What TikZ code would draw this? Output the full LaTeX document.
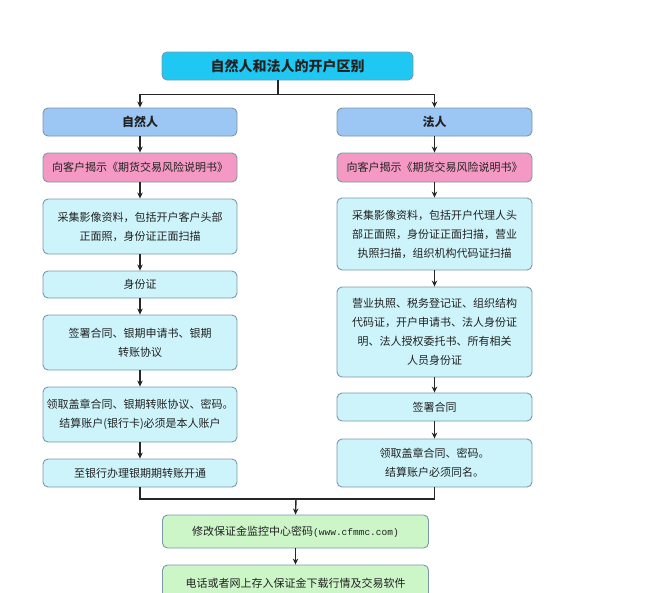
\documentclass[tikz,border=0pt]{standalone}
\usepackage{fontspec}
\newfontfamily\cjk{Noto Sans CJK SC}
\newfontfamily\monofont{Liberation Mono}
\usetikzlibrary{arrows.meta,calc}
\definecolor{titlec}{HTML}{1EC8F2}
\definecolor{bluec}{HTML}{9CC6F3}
\definecolor{pinkc}{HTML}{F498C4}
\definecolor{cyanc}{HTML}{CDF4FA}
\definecolor{greenc}{HTML}{CCF5C8}
\definecolor{edgec}{HTML}{7A98AC}
\definecolor{txtc}{HTML}{222222}
\tikzset{
  box/.style={draw=edgec, line width=0.9pt, rounded corners=5pt, inner sep=0pt,
    align=center, text=txtc, font=\cjk\fontsize{11}{19}\selectfont},
  colL/.style={box, minimum width=194pt},
  colR/.style={box, minimum width=195pt},
  titlebox/.style={box, fill=titlec, minimum width=251pt, minimum height=28pt,
    font=\cjk\bfseries\fontsize{14}{16}\selectfont},
  headbox/.style={fill=bluec, minimum height=28pt, font=\cjk\bfseries\fontsize{12}{14}\selectfont},
  pinkbox/.style={fill=pinkc, minimum height=29pt},
  cyanbox/.style={fill=cyanc},
  greenbox/.style={box, fill=greenc, minimum width=266pt},
  conn/.style={line width=1.4pt, draw=black!85},
  arr/.style={conn, -{Stealth[length=6pt,width=5.5pt]}},
}
\begin{document}
\begin{tikzpicture}[x=1pt,y=-1pt]
\useasboundingbox[fill=white] (0,0) rectangle (650,592);
% title
\node[titlebox] (title) at (287.5,66) {自然人和法人的开户区别};
% left column
\node[colL,headbox] (L1) at (140,122) {自然人};
\node[colL,pinkbox] (L2) at (140,167.5) {向客户揭示《期货交易风险说明书》};
\node[colL,cyanbox,minimum height=55pt] (L3) at (140,226.5) {采集影像资料，包括开户客户头部\\正面照，身份证正面扫描};
\node[colL,cyanbox,minimum height=27pt] (L4) at (140,284.5) {身份证};
\node[colL,cyanbox,minimum height=55pt] (L5) at (140,342.5) {签署合同、银期申请书、银期\\转账协议};
\node[colL,cyanbox,minimum height=55pt] (L6) at (140,414.5) {领取盖章合同、银期转账协议、密码。\\结算账户(银行卡)必须是本人账户};
\node[colL,cyanbox,minimum height=28pt] (L7) at (140,473) {至银行办理银期期转账开通};
% right column
\node[colR,headbox] (R1) at (434.5,122) {法人};
\node[colR,pinkbox] (R2) at (434.5,167.5) {向客户揭示《期货交易风险说明书》};
\node[colR,cyanbox,minimum height=72pt] (R3) at (434.5,234) {采集影像资料，包括开户代理人头\\部正面照，身份证正面扫描，营业\\执照扫描，组织机构代码证扫描};
\node[colR,cyanbox,minimum height=90pt] (R4) at (434.5,332) {营业执照、税务登记证、组织结构\\代码证，开户申请书、法人身份证\\明、法人授权委托书、所有相关\\人员身份证};
\node[colR,cyanbox,minimum height=28pt] (R5) at (434.5,407) {签署合同};
\node[colR,cyanbox,minimum height=48pt] (R6) at (434.5,463) {领取盖章合同、密码。\\结算账户必须同名。};
% bottom
\node[greenbox,minimum height=33pt] (G1) at (295.5,531.5) {修改保证金监控中心密码{\monofont\fontsize{9.5}{11}\selectfont(www.cfmmc.com)}};
\node[greenbox,minimum height=36pt] (G2) at (295.5,583) {电话或者网上存入保证金下载行情及交易软件};
% connectors
\coordinate (tj) at (278,94.5);
\coordinate (bj) at (296,499);
\draw[conn] (title.south -| tj) -- (tj);
\draw[arr] (tj) -| (L1.north);
\draw[arr] (tj) -| (R1.north);
\draw[arr] (L1) -- (L2);
\draw[arr] (L2) -- (L3);
\draw[arr] (L3) -- (L4);
\draw[arr] (L4) -- (L5);
\draw[arr] (L5) -- (L6);
\draw[arr] (L6) -- (L7);
\draw[arr] (R1) -- (R2);
\draw[arr] (R2) -- (R3);
\draw[arr] (R3) -- (R4);
\draw[arr] (R4) -- (R5);
\draw[arr] (R5) -- (R6);
\draw[conn] (L7.south) |- (bj) -| (R6.south);
\draw[arr] (bj) -- (G1.north);
\draw[arr] (G1) -- (G2);
\end{tikzpicture}
\end{document}
